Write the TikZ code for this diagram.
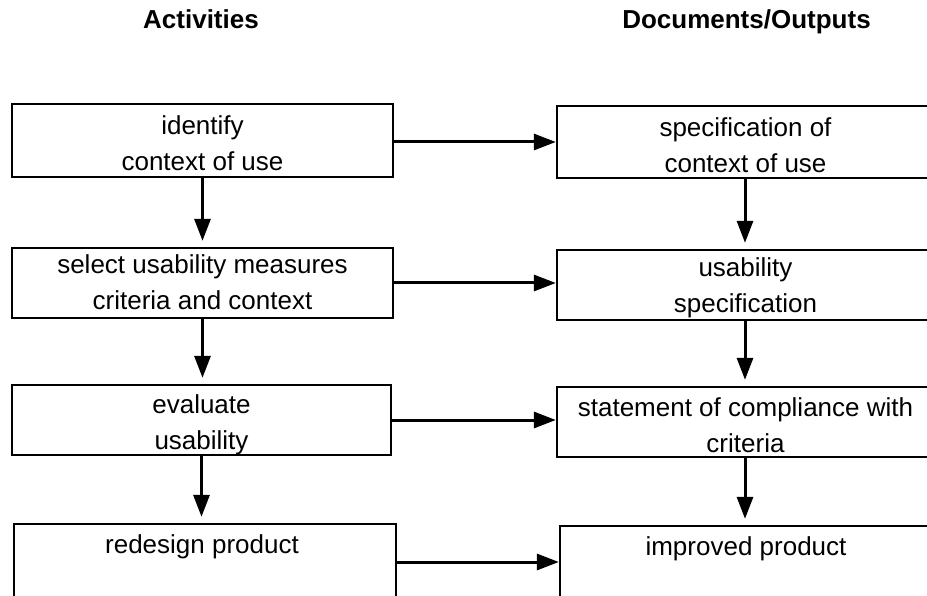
\documentclass[tikz,border=0pt]{standalone}
\usepackage{fontspec}
\setmainfont{Liberation Sans}
\usetikzlibrary{arrows.meta}
\begin{document}
\begin{tikzpicture}[x=1pt,y=1pt,
  box/.style={draw, line width=2.3pt, rectangle, inner sep=0pt},
  txt/.style={inner sep=0pt, align=center, anchor=north, font=\fontsize{26}{36}\selectfont},
  ttl/.style={inner sep=0pt, anchor=base, font=\fontsize{26}{30}\selectfont\bfseries},
  arr/.style={line width=3pt, -{Triangle[length=22pt,width=16pt]}}]
\clip (0,0) rectangle (927,-596);
\fill[white] (0,0) rectangle (927,-596);
% titles
\node[ttl] (h1) at (201,-29) {Activities};
\node[ttl] (h2) at (746.5,-29) {Documents/Outputs};
% left boxes
\node[box, minimum width=381pt, minimum height=73pt] (a1) at (202.5,-140.5) {};
\node[box, minimum width=381pt, minimum height=70pt] (a2) at (202.5,-283) {};
\node[box, minimum width=379pt, minimum height=70pt] (a3) at (201.5,-420) {};
\node[box, minimum width=382pt, minimum height=76pt] (a4) at (205,-562) {};
% right boxes
\node[box, minimum width=376pt, minimum height=72pt] (d1) at (745,-142) {};
\node[box, minimum width=376pt, minimum height=70pt] (d2) at (745,-285) {};
\node[box, minimum width=376pt, minimum height=70pt] (d3) at (745,-422) {};
\node[box, minimum width=376pt, minimum height=76pt] (d4) at (748,-564) {};
% texts
\node[txt] (ta1) at (202.5,-115) {identify\\context of use};
\node[txt] (ta2) at (202.5,-254) {select usability measures\\criteria and context};
\node[txt] (ta3) at (201.5,-394) {evaluate\\usability};
\node[txt] (ta4) at (202,-534) {redesign product};
\node[txt] (td1) at (745.5,-117) {specification of\\context of use};
\node[txt] (td2) at (745.5,-257.5) {usability\\specification};
\node[txt] (td3) at (745.5,-397) {statement of compliance with\\criteria};
\node[txt] (td4) at (746,-536) {improved product};
% vertical arrows
\draw[arr, shorten >=6pt] (a1.south) -- (a1.south |- a2.north);
\draw[arr, shorten >=6pt] (a2.south) -- (a2.south |- a3.north);
\draw[arr, shorten >=6pt] (a3.south) -- (a3.south |- a4.north);
\draw[arr, shorten >=6pt] (d1.south) -- (d1.south |- d2.north);
\draw[arr, shorten >=6pt] (d2.south) -- (d2.south |- d3.north);
\draw[arr, shorten >=6pt] (d3.south) -- (d3.south |- d4.north);
% horizontal arrows
\draw[arr] (a1.east |- d1.west) -- (d1.west);
\draw[arr] (a2.east) -- (a2.east -| d2.west);
\draw[arr] (a3.east) -- (a3.east -| d3.west);
\draw[arr] (a4.east) -- (a4.east -| d4.west);
\end{tikzpicture}
\end{document}
